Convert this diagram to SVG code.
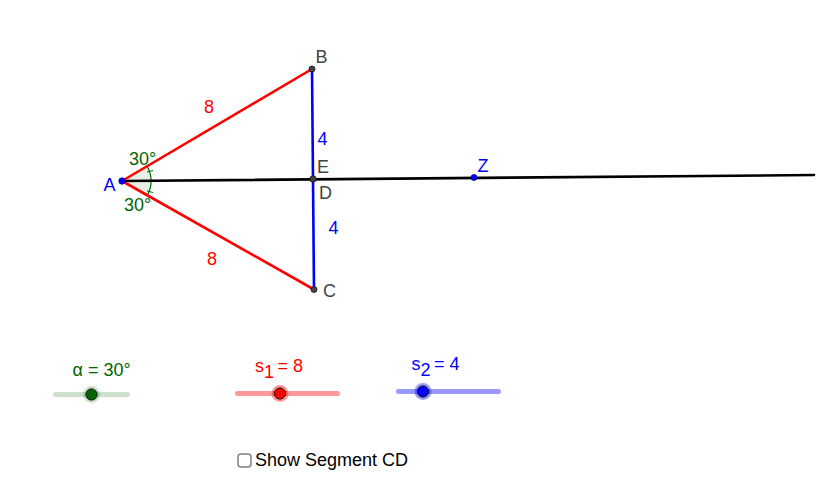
<svg xmlns="http://www.w3.org/2000/svg" width="816" height="500" viewBox="0 0 816 500">
<style>
text{font-family:"Liberation Sans",Arial,sans-serif;font-size:18px}
.g{fill:#006400}.r{fill:#f00}.b{fill:#00f}.k{fill:#444}
.pt{fill:#444;stroke:#111;stroke-width:.8}
.seg{fill:none;stroke-width:2.600;stroke-linecap:round}
.trk{fill:none;stroke-width:5;stroke-linecap:round}
</style>
<rect width="816" height="500" fill="#fff"/>
<g id="connectors">
<path id="arc" d="M122 181L147 167A29 29 0 0 1 147 195Z" fill="#006400" fill-opacity=".1" stroke="none"/>
<path d="M147.500 167A29 29 0 0 1 147.500 195" fill="none" stroke="#006400" stroke-width="1.200"/>
<path d="M147 172L153 170.500M147 191L153 192.500" fill="none" stroke="#006400" stroke-width="1"/>
<line class="seg" x1="122" y1="181" x2="814" y2="175" stroke="#000"/>
<line class="seg" x1="122" y1="181" x2="312" y2="69" stroke="#f00"/>
<line class="seg" x1="122" y1="181" x2="314" y2="289.500" stroke="#f00"/>
<line class="seg" x1="312" y1="69" x2="314" y2="289.500" stroke="#00f"/>
</g>
<g id="edge-labels">
<text class="r" x="204" y="113">8</text>
<text class="r" x="207" y="265">8</text>
<text class="b" x="317.500" y="145">4</text>
<text class="b" x="328.500" y="234">4</text>
<text class="g" x="129" y="165">30°</text>
<text class="g" x="124" y="211">30°</text>
</g>
<g id="A"><circle cx="122" cy="181" r="3.200" fill="#00f" stroke="#00008b" stroke-width=".8"/><text class="b" x="103.500" y="191">A</text></g>
<g id="B"><circle class="pt" cx="312" cy="69" r="3"/><text class="k" x="315.500" y="63">B</text></g>
<g id="C"><circle class="pt" cx="314" cy="289.500" r="3"/><text class="k" x="323" y="297">C</text></g>
<g id="E"><circle class="pt" cx="313" cy="179" r="3.200"/><text class="k" x="317" y="173">E</text></g>
<g id="D"><text class="k" x="319" y="199">D</text></g>
<g id="Z"><circle cx="474" cy="177.500" r="3" fill="#00f" stroke="#00008b" stroke-width=".8"/><text class="b" x="477.500" y="172">Z</text></g>
<g id="slider-alpha">
<line class="trk" x1="55.500" y1="394.500" x2="127.500" y2="394.500" stroke="#006400" stroke-opacity=".2"/>
<circle cx="91.500" cy="394.500" r="8.500" fill="#006400" fill-opacity=".2"/>
<circle cx="91.500" cy="394.500" r="5.600" fill="#006400" stroke="#111" stroke-width="1"/>
<text class="g" x="72.500" y="376">α = 30°</text>
</g>
<g id="slider-s1">
<line class="trk" x1="237.500" y1="393.500" x2="337.500" y2="393.500" stroke="#f00" stroke-opacity=".4"/>
<circle cx="280" cy="393.500" r="8.500" fill="#f00" fill-opacity=".4"/>
<circle cx="280" cy="393.500" r="5.600" fill="#f00" stroke="#111" stroke-width="1"/>
<text class="r" x="255" y="372">s<tspan dy="6">1</tspan><tspan x="277.500" dy="-6">= 8</tspan></text>
</g>
<g id="slider-s2">
<line class="trk" x1="398.500" y1="391.500" x2="498.500" y2="391.500" stroke="#00f" stroke-opacity=".4"/>
<circle cx="423" cy="391.500" r="8.500" fill="#00f" fill-opacity=".4"/>
<circle cx="423" cy="391.500" r="5.600" fill="#00f" stroke="#111" stroke-width="1"/>
<text class="b" x="411.500" y="370">s<tspan dy="6">2</tspan><tspan x="434" dy="-6">= 4</tspan></text>
</g>
<g id="checkbox">
<rect x="238" y="454" width="13" height="13" rx="3" fill="#fff" stroke="#808080" stroke-width="1.500"/>
<text x="255" y="466" fill="#000">Show Segment CD</text>
</g>
</svg>
